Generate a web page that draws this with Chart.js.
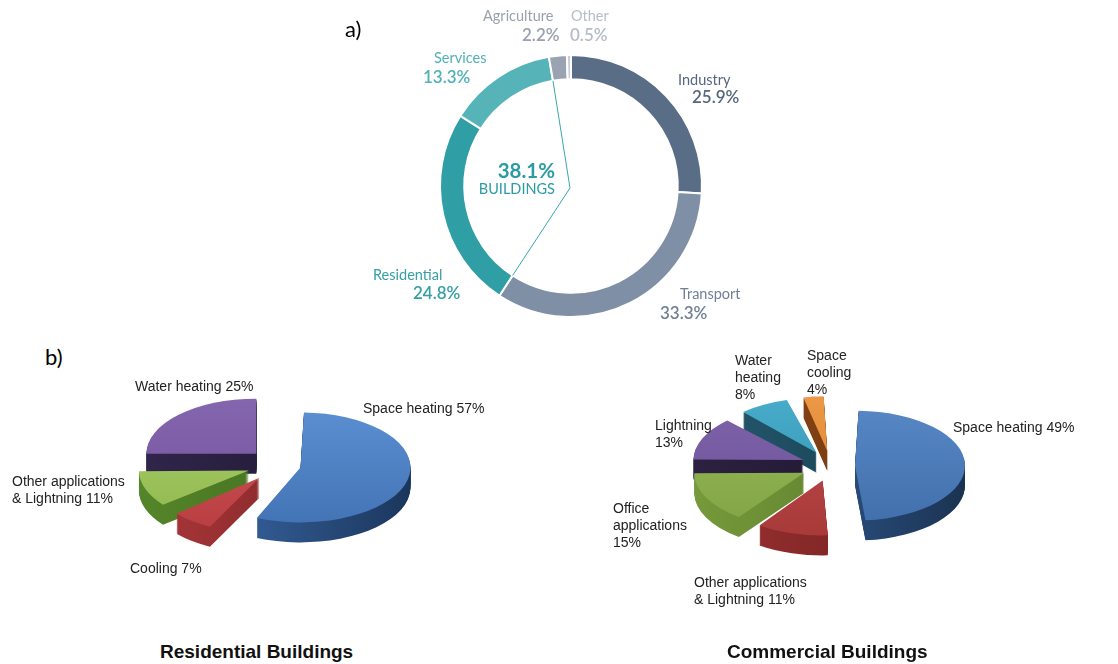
<!DOCTYPE html>
<html>
<head>
<meta charset="utf-8">
<script src="https://cdn.jsdelivr.net/npm/chart.js@4.4.1/dist/chart.umd.min.js"></script>
<style>
  body { margin: 0; background: #fff; }
  #page { position: relative; width: 1118px; height: 664px; overflow: hidden; }
  canvas { position: absolute; }
  .lbl { position: absolute; white-space: nowrap; line-height: 1; }
  .share { font-family: Lato, 'Open Sans', sans-serif; font-size: 14.5px; }
  .share.val { font-size: 17px; font-weight: 600; }
  .use { font-family: 'Liberation Sans', Arial, sans-serif; font-size: 14px; color: #222; line-height: 17px; white-space: normal; }
  .title { font-family: 'Liberation Sans', Arial, sans-serif; font-size: 19px; font-weight: bold; color: #111; }
  .tag { font-family: Lato, 'Noto Sans', sans-serif; font-size: 22px; color: #000; }
</style>
</head>
<body>
<div id="page">
  <canvas id="share-chart" width="300" height="300" style="left:421px;top:36px"></canvas>
  <canvas id="res-chart" width="300" height="300" style="left:129px;top:315px"></canvas>
  <canvas id="com-chart" width="300" height="300" style="left:681px;top:316px"></canvas>
</div>
<script>
// final energy use by sector, and end uses inside buildings

const shareLabels = ['Industry', 'Transport', 'Residential', 'Services', 'Agriculture', 'Other'];
const shareValues = [25.9, 33.3, 24.8, 13.3, 2.2, 0.5];
const buildingSectors = ['Residential', 'Services'];
const buildingsLabel = 'BUILDINGS';

const resLabels = ['Space heating', 'Cooling', 'Other applications & Lightning', 'Water heating'];
const resValues = [57, 7, 11, 25];

const comLabels = ['Space heating', 'Other applications & Lightning', 'Office applications', 'Lightning', 'Water heating', 'Space cooling'];
const comValues = [49, 11, 15, 13, 8, 4];

const SHARE_COLORS = ['#5a6d86', '#7f8fa5', '#2f9ea5', '#56b4b9', '#9aa3b2', '#c9ced6'];
const SHARE_TEXT = ['#56667e', '#6f7f95', '#349fa6', '#4fb1b6', '#9aa1ae', '#b6bcc8'];
const TEAL = '#2b9ca3';

const TILT = 0.5;   // vertical squash of the 3d pies
const DEPTH = 20;   // wall height in px
const PIE_R = 110;

const page = document.getElementById('page');

function addText(text, x, y, cls, color, width) {
  const el = document.createElement('div');
  el.className = 'lbl ' + cls;
  el.textContent = text;
  el.style.left = x + 'px';
  el.style.top = y + 'px';
  if (color) el.style.color = color;
  if (width) el.style.width = width + 'px';
  page.appendChild(el);
  return el;
}

const fmtPct = v => v.toFixed(1) + '%';

// --- a) sector doughnut ---

// thin bracket from the centre to the edges of the buildings share
const bracketPlugin = {
  id: 'bracket',
  afterDatasetsDraw(chart) {
    const arcs = chart.getDatasetMeta(0).data;
    const idx = buildingSectors.map(s => shareLabels.indexOf(s));
    const first = arcs[Math.min(...idx)];
    const last = arcs[Math.max(...idx)];
    const r = first.innerRadius;
    const ctx = chart.ctx;
    ctx.save();
    ctx.strokeStyle = '#3aa6ad';
    ctx.lineWidth = 1;
    ctx.beginPath();
    ctx.moveTo(first.x + Math.cos(first.startAngle) * r, first.y + Math.sin(first.startAngle) * r);
    ctx.lineTo(first.x - 1, first.y + 2);
    ctx.lineTo(last.x + Math.cos(last.endAngle) * r, last.y + Math.sin(last.endAngle) * r);
    ctx.stroke();
    ctx.restore();
  }
};

new Chart(document.getElementById('share-chart'), {
  type: 'doughnut',
  data: {
    labels: shareLabels,
    datasets: [{
      data: shareValues,
      backgroundColor: SHARE_COLORS,
      borderColor: '#fff',
      borderWidth: 2,
      radius: 131,
      cutout: '81.5%',
      clip: false,
    }]
  },
  options: {
    responsive: false,
    animation: false,
    events: [],
    plugins: { legend: { display: false }, tooltip: { enabled: false } }
  },
  plugins: [bracketPlugin]
});

const shareNamePos = [[678, 73], [680, 287], [373, 268], [434, 51], [483, 9], [571, 9]];
const shareValuePos = [[692, 88], [660, 304], [413, 284], [423, 68], [522, 26], [570, 26]];
shareLabels.forEach((name, i) => {
  addText(name, shareNamePos[i][0], shareNamePos[i][1], 'share', SHARE_TEXT[i]);
  addText(fmtPct(shareValues[i]), shareValuePos[i][0], shareValuePos[i][1], 'share val', SHARE_TEXT[i]);
});

const buildingsTotal = buildingSectors.reduce((s, n) => s + shareValues[shareLabels.indexOf(n)], 0);
const totalEl = addText(fmtPct(buildingsTotal), 0, 160, 'share', TEAL);
totalEl.style.cssText += 'font-size:20.5px;font-weight:bold;right:' + (1118 - 555) + 'px;left:auto;';
const bEl = addText(buildingsLabel, 0, 182, 'share', TEAL);
bEl.style.cssText += 'font-size:14.5px;right:' + (1118 - 555) + 'px;left:auto;';

addText('a)', 345, 18, 'tag');
addText('b)', 45, 346, 'tag');

// --- b) tilted pies ---

// squashes the pie into an ellipse and builds the walls under every slice
const tiltPlugin = {
  id: 'tilt',
  afterDatasetUpdate(chart, args) {
    // exploded slices keep the same radius as the rest
    args.meta.data.forEach(arc => {
      const off = (arc.options.offset || 0) / 4;
      const fix = 1 - Math.sin(Math.min(Math.PI, arc.circumference));
      arc.outerRadius = PIE_R - off * fix;
    });
  },
  beforeDatasetsDraw(chart, args, opts) {
    const ctx = chart.ctx;
    const arcs = chart.getDatasetMeta(0).data;
    const cy = (chart.chartArea.top + chart.chartArea.bottom) / 2;
    const cx = (chart.chartArea.left + chart.chartArea.right) / 2;
    ctx.save();
    ctx.translate(0, cy);
    ctx.scale(1, TILT);
    ctx.translate(0, -cy);
    const walls = opts.walls.map(([light, dark]) => {
      const g = ctx.createLinearGradient(cx - PIE_R, 0, cx + PIE_R, 0);
      g.addColorStop(0, light);
      g.addColorStop(1, dark);
      return g;
    });
    for (let k = DEPTH; k > 0; k--) {
      ctx.save();
      ctx.translate(0, k / TILT);
      arcs.forEach((arc, i) => {
        const o = arc.options;
        arc.options = Object.assign({}, o, { backgroundColor: walls[i], borderWidth: 0 });
        arc.draw(ctx);
        arc.options = o;
      });
      ctx.restore();
    }
  },
  afterDatasetsDraw(chart) {
    chart.ctx.restore();
  }
};

// top faces: a soft light-to-base shading from the back of the pie to the front
function topFill(pairs) {
  return c => {
    const { chart, dataIndex } = c;
    const area = chart.chartArea;
    const [light, base] = pairs[dataIndex];
    if (!area) return base;
    const cy = (area.top + area.bottom) / 2;
    const g = chart.ctx.createLinearGradient(0, cy - PIE_R, 0, cy + PIE_R);
    g.addColorStop(0, light);
    g.addColorStop(1, base);
    return g;
  };
}

function tiltedPie(id, labels, values, tops, walls, offsets) {
  return new Chart(document.getElementById(id), {
    type: 'pie',
    data: {
      labels,
      datasets: [{
        data: values,
        backgroundColor: topFill(tops),
        borderWidth: 0,
        offset: offsets,
        radius: PIE_R,
        clip: false,
      }]
    },
    options: {
      responsive: false,
      animation: false,
      events: [],
      plugins: {
        legend: { display: false },
        tooltip: { enabled: false },
        tilt: { walls }
      }
    },
    plugins: [tiltPlugin]
  });
}

tiltedPie('res-chart', resLabels, resValues,
  [['#5a8ed0', '#4374b6'], ['#cc5254', '#b83e41'], ['#a6cc66', '#92b950'], ['#8466ae', '#74549e']],
  [['#3b6aa8', '#1b365c'], ['#a83638', '#7a2426'], ['#55852a', '#3f6a1c'], ['#30254a', '#1f1830']],
  [88, 128, 128, 128]);

tiltedPie('com-chart', comLabels, comValues,
  [['#5686c4', '#4270ad'], ['#bd4a49', '#a83a3a'], ['#95b857', '#82a444'], ['#7f63aa', '#6e5298'], ['#48abca', '#3697b6'], ['#ec9846', '#de8432']],
  [['#33609a', '#1b3352'], ['#9a3030', '#6e1f1f'], ['#76993b', '#5a7a2a'], ['#2c2140', '#1e1630'], ['#24586e', '#163d4d'], ['#8f4a18', '#6a320c']],
  [96, 120, 120, 120, 120, 120]);

const resLabelPos = [[363, 400], [130, 560], [12, 473, 120], [135, 378]];
resLabels.forEach((name, i) => {
  const p = resLabelPos[i];
  addText(name + ' ' + resValues[i] + '%', p[0], p[1], 'use', null, p[2]);
});

const comLabelPos = [[953, 419], [694, 574, 120], [613, 500, 80], [655, 417, 60], [735, 352, 50], [807, 347, 50]];
comLabels.forEach((name, i) => {
  const p = comLabelPos[i];
  addText(name + ' ' + comValues[i] + '%', p[0], p[1], 'use', null, p[2]);
});

addText('Residential Buildings', 160, 642, 'title');
addText('Commercial Buildings', 727, 642, 'title');
</script>
</body>
</html>
